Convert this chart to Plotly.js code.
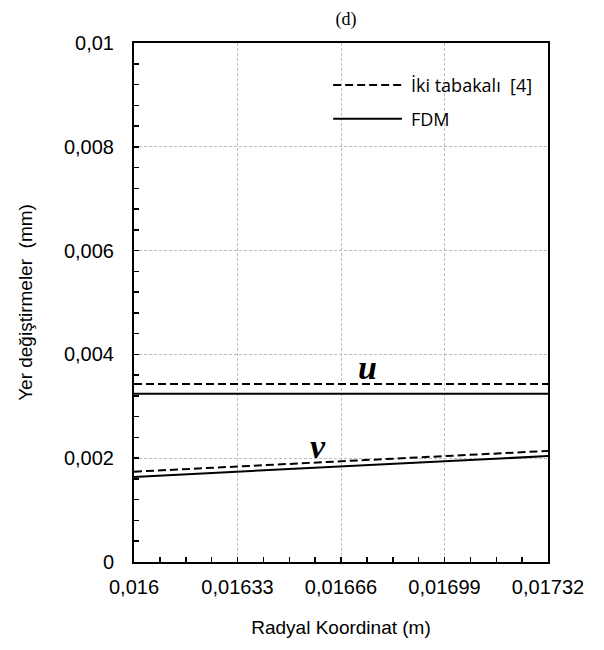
<!DOCTYPE html>
<html>
<head>
<meta charset="utf-8">
<script src="https://cdn.plot.ly/plotly-3.0.1.min.js"></script>
<style>
  html, body { margin: 0; padding: 0; background: #fff; }
  #chart { width: 604px; height: 650px; }
</style>
</head>
<body>
<div id="chart"></div>
<script>
// Radial coordinate (m)
const radius = [0.016, 0.01732];

// Displacements (mm): two-layer solution [4] and finite differences
const uTwoLayer = [0.00343, 0.00343];
const uFdm = [0.00324, 0.00324];
const vTwoLayer = [0.00174, 0.00214];
const vFdm = [0.00164, 0.00204];

// Axis ticks
const xTickVals = [0.016, 0.01633, 0.01666, 0.01699, 0.01732];
const xTickText = ['0,016', '0,01633', '0,01666', '0,01699', '0,01732'];
const yTickVals = [0, 0.002, 0.004, 0.006, 0.008, 0.01];
const yTickText = ['0', '0,002', '0,004', '0,006', '0,008', '0,01'];

// Series names
const seriesNames = ['İki tabakalı&nbsp;&nbsp;[4]', 'FDM'];

const DASH = '8px,4px';
const dashed = { color: '#000', width: 2, dash: DASH };
const solid = { color: '#000', width: 2 };

const traces = [
  { x: radius, y: uTwoLayer, mode: 'lines', line: dashed, name: seriesNames[0] },
  { x: radius, y: uFdm, mode: 'lines', line: solid, name: seriesNames[1] },
  { x: radius, y: vTwoLayer, mode: 'lines', line: dashed, name: seriesNames[0] },
  { x: radius, y: vFdm, mode: 'lines', line: solid, name: seriesNames[1] }
];

const tickFont = { family: 'Liberation Sans, Arial, sans-serif', size: 20, color: '#000' };
const titleFont = { family: 'Liberation Sans, Arial, sans-serif', size: 19, color: '#000' };
const legendFont = { family: 'Open Sans, sans-serif', size: 18, color: '#000' };
const symbolFont = { family: 'Liberation Serif, serif', size: 34, color: '#000' };

// Legend drawn as key lines plus labels in the upper right of the plot area
const legendRows = [
  { y: 0.919, line: dashed, label: seriesNames[0] },
  { y: 0.854, line: solid, label: seriesNames[1] }
];
const legendShapes = legendRows.map(r => ({
  type: 'line', xref: 'paper', yref: 'paper',
  x0: 0.481, x1: 0.647, y0: r.y, y1: r.y,
  line: r.line
}));
const legendLabels = legendRows.map(r => ({
  xref: 'paper', yref: 'paper', x: 0.665, y: r.y,
  xanchor: 'left', yanchor: 'middle', showarrow: false,
  text: r.label, font: legendFont
}));

const layout = {
  width: 604,
  height: 650,
  margin: { l: 134, r: 56, t: 43, b: 88 },
  paper_bgcolor: '#fff',
  plot_bgcolor: '#fff',
  showlegend: false,
  title: {
    text: '(d)',
    font: { family: 'Liberation Serif, serif', size: 18, color: '#000' },
    x: 346 / 604, xanchor: 'center', y: 1 - 19 / 650, yanchor: 'middle'
  },
  xaxis: {
    range: [0.016, 0.01732],
    tickmode: 'array',
    tickvals: xTickVals,
    ticktext: xTickText,
    ticks: 'inside',
    ticklen: 5,
    tickwidth: 1.5,
    tickcolor: '#000',
    ticklabelstandoff: 6,
    tickfont: tickFont,
    showline: true, mirror: true, linecolor: '#000', linewidth: 2,
    showgrid: true, gridcolor: '#bdbdbd', griddash: '3px,2px', gridwidth: 1,
    zeroline: false,
    minor: { tickmode: 'linear', tick0: 0.016, dtick: 0.0000825, ticks: 'inside', ticklen: 5, tickwidth: 1.5, tickcolor: '#000', showgrid: false },
    title: { text: 'Radyal Koordinat (m)', font: titleFont, standoff: 24 }
  },
  yaxis: {
    range: [0, 0.01],
    tickmode: 'array',
    tickvals: yTickVals,
    ticktext: yTickText,
    ticks: 'inside',
    ticklen: 5,
    tickwidth: 1.5,
    tickcolor: '#000',
    ticklabelstandoff: 14,
    tickfont: tickFont,
    showline: true, mirror: true, linecolor: '#000', linewidth: 2,
    showgrid: true, gridcolor: '#bdbdbd', griddash: '3px,2px', gridwidth: 1,
    zeroline: false,
    minor: { tickmode: 'linear', tick0: 0, dtick: 0.0004, ticks: 'inside', ticklen: 5, tickwidth: 1.5, tickcolor: '#000', showgrid: false },
    title: { text: 'Yer değiştirmeler&nbsp;&nbsp;(mm)', font: titleFont, standoff: 26 }
  },
  shapes: legendShapes,
  annotations: legendLabels.concat([
    {
      x: 0.016743, y: 0.00386, xref: 'x', yref: 'y', yanchor: 'middle', yshift: -6,
      text: '<b><i>u</i></b>', showarrow: false, font: symbolFont
    },
    {
      x: 0.016587, y: 0.00235, xref: 'x', yref: 'y', yanchor: 'middle', yshift: -6,
      text: '<b><i>v</i></b>', showarrow: false, font: symbolFont
    }
  ])
};

Plotly.newPlot('chart', traces, layout, { displayModeBar: false, staticPlot: true });
</script>
</body>
</html>
